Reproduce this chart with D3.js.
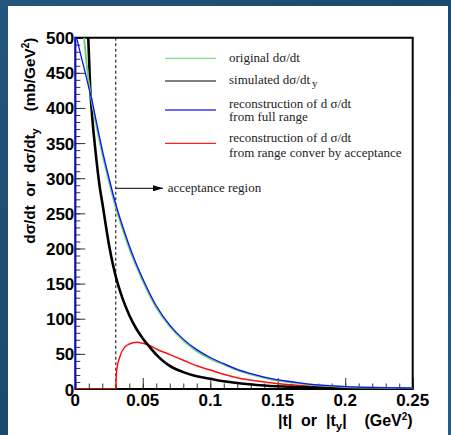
<!DOCTYPE html>
<html>
<head>
<meta charset="utf-8">
<script src="https://cdn.jsdelivr.net/npm/d3@7"></script>
<style>
  html, body { margin: 0; padding: 0; background: #1e4c72; }
  svg { display: block; }
</style>
</head>
<body>
<svg id="chart" width="451" height="435"></svg>
<script>
// |t| values (GeV^2) and cross sections (mb/GeV^2) for each curve
const tOriginal = [0.0065, 0.008, 0.01, 0.012, 0.015, 0.02, 0.025, 0.03, 0.035, 0.04, 0.045, 0.05, 0.06, 0.07, 0.08, 0.09, 0.1, 0.11, 0.12, 0.13, 0.14, 0.15, 0.16, 0.175, 0.2, 0.225, 0.25];
const original  = [500, 470, 436, 412, 381, 335, 295, 259, 228, 200, 176, 154, 116, 89, 69, 54, 43, 35, 27, 21, 16, 12, 9.5, 6, 3, 1.8, 1];

const tSimulated = [0.0096, 0.011, 0.0125, 0.015, 0.0183, 0.02, 0.025, 0.028, 0.03, 0.035, 0.04, 0.045, 0.05, 0.055, 0.06, 0.065, 0.07, 0.08, 0.09, 0.1, 0.11, 0.12, 0.14, 0.16, 0.18, 0.2, 0.25];
const simulated  = [500, 430, 388, 338, 285, 265, 205, 176, 160, 129, 105, 86.5, 72, 60, 49, 40, 33, 24, 18, 14.5, 11, 8.5, 5, 3, 2, 1.2, 0.4];

const tFullRange = [0.001, 0.004, 0.007, 0.01, 0.012, 0.015, 0.02, 0.025, 0.03, 0.035, 0.04, 0.045, 0.05, 0.06, 0.07, 0.08, 0.09, 0.1, 0.11, 0.12, 0.13, 0.14, 0.15, 0.16, 0.175, 0.2, 0.225, 0.25];
const fullRange  = [500, 476, 453, 429, 414, 386, 340, 300, 263, 232, 204, 179, 157, 118.5, 91, 71, 56, 44.8, 36, 28, 22, 17, 13, 10.3, 6.5, 3.4, 2, 1.2];

const tAccepted = [0, 0.03, 0.0302, 0.0307, 0.033, 0.0368, 0.04, 0.0455, 0.05, 0.055, 0.06, 0.07, 0.08, 0.09, 0.1, 0.11, 0.12, 0.14, 0.16, 0.18, 0.2, 0.25];
const accepted  = [0, 0, 12, 27, 46, 60, 64, 66.4, 65, 62, 57, 49, 41, 33, 27, 21, 16, 10, 6, 3.5, 2, 0.6];

const yTicks = [0, 50, 100, 150, 200, 250, 300, 350, 400, 450, 500];
const xTicks = [0, 0.05, 0.1, 0.15, 0.2, 0.25];
const xTickLabels = ["0", "0.05", "0.1", "0.15", "0.2", "0.25"];
const acceptanceCut = 0.03;

const legendLabels = [
  ["original d\u03C3/dt"],
  ["simulated d\u03C3/dt"],
  ["reconstruction of d \u03C3/dt", "from full range"],
  ["reconstruction of d \u03C3/dt", "from range conver by acceptance"]
];

const svg = d3.select("#chart");
const W = 451, H = 435;

// dark blue slide backdrop with white canvas
const defs = svg.append("defs");
const bg = defs.append("linearGradient").attr("id", "bg").attr("x1", 0).attr("y1", 0).attr("x2", 1).attr("y2", 1);
bg.append("stop").attr("offset", "0%").attr("stop-color", "#24557d");
bg.append("stop").attr("offset", "50%").attr("stop-color", "#1b486e");
bg.append("stop").attr("offset", "100%").attr("stop-color", "#2a5b82");
svg.append("rect").attr("width", W).attr("height", H).attr("fill", "url(#bg)");
svg.append("rect").attr("x", 8).attr("y", 6).attr("width", 440).attr("height", H - 6).attr("fill", "#ffffff");

const frame = { left: 75.3, top: 37.7, right: 412.7, bottom: 389 };
const x = d3.scaleLinear().domain([0, 0.25]).range([frame.left, frame.right]);
const y = d3.scaleLinear().domain([0, 500]).range([frame.bottom, frame.top]);

defs.append("clipPath").attr("id", "plotclip").append("rect")
  .attr("x", frame.left).attr("y", frame.top)
  .attr("width", frame.right - frame.left).attr("height", frame.bottom - frame.top);

// minor and major ticks pointing into the frame
const axes = svg.append("g");
const yMinor = d3.range(0, 501, 10);
const xMinor = d3.range(0, 26).map(i => i * 0.01);

axes.append("g").attr("transform", `translate(${frame.left},0)`)
  .call(d3.axisLeft(y).tickValues(yMinor).tickSize(-5).tickFormat(""))
  .call(g => g.select(".domain").remove());
axes.append("g").attr("transform", `translate(${frame.left},0)`)
  .call(d3.axisLeft(y).tickValues(yTicks).tickSize(-10).tickFormat(""))
  .call(g => g.select(".domain").remove());
axes.append("g").attr("transform", `translate(0,${frame.bottom})`)
  .call(d3.axisBottom(x).tickValues(xMinor).tickSize(-5.5).tickFormat(""))
  .call(g => g.select(".domain").remove());
axes.append("g").attr("transform", `translate(0,${frame.bottom})`)
  .call(d3.axisBottom(x).tickValues(xTicks).tickSize(-11).tickFormat(""))
  .call(g => g.select(".domain").remove());
axes.selectAll(".tick line").attr("stroke", "#333").attr("stroke-width", 1);

// tick labels
const tickFont = "'Liberation Sans', Arial, sans-serif";
svg.append("g").selectAll("text").data(yTicks).join("text")
  .attr("x", frame.left - 1).attr("y", d => y(d) + 6.5)
  .attr("text-anchor", "end").attr("font-family", tickFont).attr("font-weight", "bold")
  .attr("font-size", 17).attr("fill", "#000").text(d => d);
svg.append("g").selectAll("text").data(xTicks).join("text")
  .attr("x", d => x(d)).attr("y", frame.bottom + 17)
  .attr("text-anchor", "middle").attr("font-family", tickFont).attr("font-weight", "bold")
  .attr("font-size", 17).attr("fill", "#000").text((d, i) => xTickLabels[i]);

// frame
svg.append("path")
  .attr("d", `M${frame.left},${frame.top}H${frame.right}V${frame.bottom}H${frame.left}`)
  .attr("fill", "none").attr("stroke", "#000").attr("stroke-width", 2);
svg.append("line")
  .attr("x1", frame.left).attr("x2", frame.left).attr("y1", frame.top - 1).attr("y2", frame.bottom + 1)
  .attr("stroke", "#1010a8").attr("stroke-width", 2.2);

// acceptance cut
svg.append("line")
  .attr("x1", x(acceptanceCut)).attr("x2", x(acceptanceCut))
  .attr("y1", frame.top).attr("y2", frame.bottom)
  .attr("stroke", "#000").attr("stroke-width", 1).attr("stroke-dasharray", "3,2.5");

// curves
const plot = svg.append("g").attr("clip-path", "url(#plotclip)");
const line = d3.line().x(d => x(d[0])).y(d => y(d[1])).curve(d3.curveMonotoneX);
const zip = (ts, vs) => ts.map((t, i) => [t, vs[i]]);

plot.append("path").datum(zip(tAccepted, accepted))
  .attr("d", line).attr("fill", "none").attr("stroke", "#ff1010").attr("stroke-width", 1.5);
plot.append("path").datum(zip(tSimulated, simulated))
  .attr("d", line).attr("fill", "none").attr("stroke", "#000").attr("stroke-width", 2.6);
plot.append("path").datum(zip(tOriginal, original))
  .attr("d", line).attr("fill", "none").attr("stroke", "#6fd46f").attr("stroke-width", 2);
plot.append("path").datum(zip(tFullRange, fullRange))
  .attr("d", line).attr("fill", "none").attr("stroke", "#1010ff").attr("stroke-width", 1.3);

// legend
const legendFont = "'Liberation Serif', 'Times New Roman', serif";
const legendColors = ["#86dc86", "#000", "#3a3aff", "#ff2020"];
const legendLineY = [58.3, 81, 110, 143.3];
const legendTextY = [[61.7], [84.3], [108, 121], [141.7, 156.7]];
const lg = svg.append("g");
legendLabels.forEach((lines, i) => {
  lg.append("line").attr("x1", 165).attr("x2", 216)
    .attr("y1", legendLineY[i]).attr("y2", legendLineY[i])
    .attr("stroke", legendColors[i]).attr("stroke-width", i === 1 ? 1 : 1.3);
  lines.forEach((s, j) => {
    const t = lg.append("text").attr("x", 229).attr("y", legendTextY[i][j])
      .attr("font-family", legendFont).attr("font-size", 13).attr("fill", "#222").text(s);
    if (i === 1) {
      t.append("tspan").attr("dx", 2).attr("dy", 3).attr("font-size", 11).text("y");
    }
  });
});

// acceptance region arrow
defs.append("marker").attr("id", "arrowhead").attr("viewBox", "0 0 10 6")
  .attr("refX", 10).attr("refY", 3).attr("markerWidth", 10).attr("markerHeight", 6)
  .attr("markerUnits", "userSpaceOnUse").attr("orient", "auto")
  .append("path").attr("d", "M0,0L10,3L0,6Z").attr("fill", "#000");
svg.append("line")
  .attr("x1", x(acceptanceCut)).attr("x2", 163).attr("y1", 188.3).attr("y2", 188.3)
  .attr("stroke", "#000").attr("stroke-width", 1).attr("marker-end", "url(#arrowhead)");
svg.append("text").attr("x", 167.7).attr("y", 192)
  .attr("font-family", legendFont).attr("font-size", 13).attr("fill", "#222")
  .text("acceptance region");

// axis titles
const xt = svg.append("text").attr("x", frame.right).attr("y", 426)
  .attr("text-anchor", "end").attr("font-family", tickFont).attr("font-weight", "bold")
  .attr("font-size", 16).attr("fill", "#000").attr("xml:space", "preserve");
xt.append("tspan").text("|t|  or  |t");
xt.append("tspan").attr("font-size", 11.5).attr("dy", 4).text("y");
xt.append("tspan").attr("dy", -4).text("|    (GeV");
xt.append("tspan").attr("font-size", 10).attr("dy", -6).text("2");
xt.append("tspan").attr("dy", 6).text(")");

const yt = svg.append("text").attr("transform", `translate(35,${frame.top}) rotate(-90)`)
  .attr("text-anchor", "end").attr("font-family", tickFont).attr("font-weight", "bold")
  .attr("font-size", 15.3).attr("fill", "#000").attr("xml:space", "preserve");
yt.append("tspan").text("d\u03C3/dt  or  d\u03C3/dt");
yt.append("tspan").attr("font-size", 11).attr("dy", 4).text("y");
yt.append("tspan").attr("dy", -4).text("    (mb/GeV");
yt.append("tspan").attr("font-size", 10).attr("dy", -6).text("2");
yt.append("tspan").attr("dy", 6).text(")");
</script>
</body>
</html>
